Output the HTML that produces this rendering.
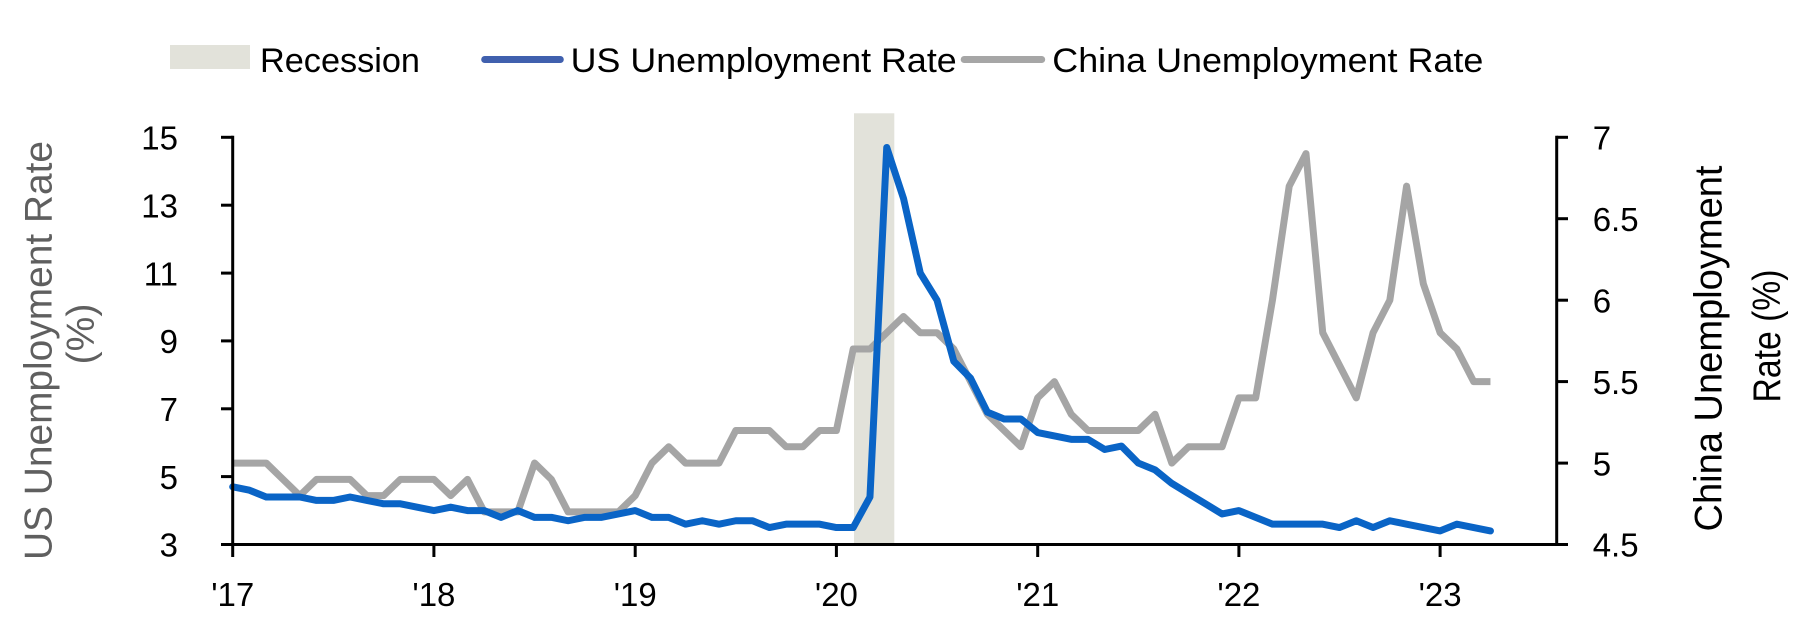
<!DOCTYPE html>
<html><head><meta charset="utf-8"><style>
html,body{margin:0;padding:0;background:#fff;}
svg{display:block;font-family:"Liberation Sans",Arial,sans-serif;}
</style></head><body>
<svg width="1801" height="641" viewBox="0 0 1801 641" xmlns="http://www.w3.org/2000/svg">
<rect x="0" y="0" width="1801" height="641" fill="#fff"/>
<!-- Legend -->
<rect x="170" y="45" width="80" height="24" fill="#e2e2da"/>
<text x="260" y="72" font-size="34" fill="#000" textLength="160" lengthAdjust="spacingAndGlyphs">Recession</text>
<line x1="484.7" y1="59.5" x2="560.3" y2="59.5" stroke="#4060ae" stroke-width="7" stroke-linecap="round"/>
<text x="570.7" y="72" font-size="34" fill="#000" textLength="386" lengthAdjust="spacingAndGlyphs">US Unemployment Rate</text>
<line x1="964.2" y1="59.5" x2="1041.7" y2="59.5" stroke="#a6a6a6" stroke-width="7" stroke-linecap="round"/>
<text x="1052.3" y="72" font-size="34" fill="#000" textLength="431" lengthAdjust="spacingAndGlyphs">China Unemployment Rate</text>

<!-- Recession bar -->
<rect x="854" y="113.3" width="40.3" height="431.2" fill="#e2e2da"/>

<!-- China series (right axis) -->
<g transform="translate(232.7,544.5) scale(16.77,-162.87) translate(0,-4.5)">
<polyline fill="none" stroke="#a5a5a5" stroke-width="7" stroke-linejoin="round" vector-effect="non-scaling-stroke" points="0,5.0 1,5.0 2,5.0 3,4.9 4,4.8 5,4.9 6,4.9 7,4.9 8,4.8 9,4.8 10,4.9 11,4.9 12,4.9 13,4.8 14,4.9 15,4.7 16,4.7 17,4.7 18,5.0 19,4.9 20,4.7 21,4.7 22,4.7 23,4.7 24,4.8 25,5.0 26,5.1 27,5.0 28,5.0 29,5.0 30,5.2 31,5.2 32,5.2 33,5.1 34,5.1 35,5.2 36,5.2 37,5.7 38,5.7 39,5.8 40,5.9 41,5.8 42,5.8 43,5.7 44,5.5 45,5.3 46,5.2 47,5.1 48,5.4 49,5.5 50,5.3 51,5.2 52,5.2 53,5.2 54,5.2 55,5.3 56,5.0 57,5.1 58,5.1 59,5.1 60,5.4 61,5.4 62,6.0 63,6.7 64,6.9 65,5.8 66,5.6 67,5.4 68,5.8 69,6.0 70,6.7 71,6.1 72,5.8 73,5.7 74,5.5 75,5.5"/>
</g>

<!-- US series (left axis) -->
<g transform="translate(232.7,544.5) scale(16.77,-33.93) translate(0,-3)">
<polyline fill="none" stroke="#0a64c6" stroke-width="7" stroke-linejoin="round" stroke-linecap="round" vector-effect="non-scaling-stroke" points="0,4.7 1,4.6 2,4.4 3,4.4 4,4.4 5,4.3 6,4.3 7,4.4 8,4.3 9,4.2 10,4.2 11,4.1 12,4.0 13,4.1 14,4.0 15,4.0 16,3.8 17,4.0 18,3.8 19,3.8 20,3.7 21,3.8 22,3.8 23,3.9 24,4.0 25,3.8 26,3.8 27,3.6 28,3.7 29,3.6 30,3.7 31,3.7 32,3.5 33,3.6 34,3.6 35,3.6 36,3.5 37,3.5 38,4.4 39,14.7 40,13.2 41,11.0 42,10.2 43,8.4 44,7.9 45,6.9 46,6.7 47,6.7 48,6.3 49,6.2 50,6.1 51,6.1 52,5.8 53,5.9 54,5.4 55,5.2 56,4.8 57,4.5 58,4.2 59,3.9 60,4.0 61,3.8 62,3.6 63,3.6 64,3.6 65,3.6 66,3.5 67,3.7 68,3.5 69,3.7 70,3.6 71,3.5 72,3.4 73,3.6 74,3.5 75,3.4"/>
</g>

<!-- Axes -->
<g stroke="#000" stroke-width="3" fill="none">
<line x1="232.7" y1="135.8" x2="232.7" y2="557"/>
<line x1="221" y1="544.5" x2="1558.2" y2="544.5"/>
<line x1="1556.7" y1="135.8" x2="1556.7" y2="546"/>
<!-- left ticks -->
<line x1="221" y1="137.3" x2="232.7" y2="137.3"/>
<line x1="221" y1="205.2" x2="232.7" y2="205.2"/>
<line x1="221" y1="273.1" x2="232.7" y2="273.1"/>
<line x1="221" y1="340.9" x2="232.7" y2="340.9"/>
<line x1="221" y1="408.8" x2="232.7" y2="408.8"/>
<line x1="221" y1="476.6" x2="232.7" y2="476.6"/>
<!-- right ticks -->
<line x1="1556.7" y1="137.3" x2="1568" y2="137.3"/>
<line x1="1556.7" y1="218.7" x2="1568" y2="218.7"/>
<line x1="1556.7" y1="300.2" x2="1568" y2="300.2"/>
<line x1="1556.7" y1="381.6" x2="1568" y2="381.6"/>
<line x1="1556.7" y1="463.1" x2="1568" y2="463.1"/>
<line x1="1556.7" y1="544.5" x2="1568" y2="544.5"/>
<!-- bottom ticks -->
<line x1="433.9" y1="544.5" x2="433.9" y2="557"/>
<line x1="635.2" y1="544.5" x2="635.2" y2="557"/>
<line x1="836.4" y1="544.5" x2="836.4" y2="557"/>
<line x1="1037.7" y1="544.5" x2="1037.7" y2="557"/>
<line x1="1238.9" y1="544.5" x2="1238.9" y2="557"/>
<line x1="1440.1" y1="544.5" x2="1440.1" y2="557"/>
</g>

<!-- Left tick labels -->
<g font-size="33" fill="#000" text-anchor="end">
<text x="178" y="149.5">15</text>
<text x="178" y="217.4">13</text>
<text x="178" y="285.3">11</text>
<text x="178" y="353.1">9</text>
<text x="178" y="421">7</text>
<text x="178" y="488.8">5</text>
<text x="178" y="556.7">3</text>
</g>
<!-- Right tick labels -->
<g font-size="33" fill="#000">
<text x="1592.7" y="149.5">7</text>
<text x="1592.7" y="230.9">6.5</text>
<text x="1592.7" y="312.4">6</text>
<text x="1592.7" y="393.8">5.5</text>
<text x="1592.7" y="475.3">5</text>
<text x="1592.7" y="556.7">4.5</text>
</g>
<!-- Bottom labels -->
<g font-size="33" fill="#000" text-anchor="middle">
<text x="232.7" y="606">'17</text>
<text x="433.9" y="606">'18</text>
<text x="635.2" y="606">'19</text>
<text x="836.4" y="606">'20</text>
<text x="1037.7" y="606">'21</text>
<text x="1238.9" y="606">'22</text>
<text x="1440.1" y="606">'23</text>
</g>

<!-- Axis titles -->
<text transform="translate(51.7,350.5) rotate(-90)" text-anchor="middle" font-size="39" fill="#5f5f5f" textLength="419" lengthAdjust="spacingAndGlyphs">US Unemployment Rate</text>
<text transform="translate(94,334) rotate(-90)" text-anchor="middle" font-size="39" fill="#5f5f5f">(%)</text>
<text transform="translate(1721.3,348.5) rotate(-90)" text-anchor="middle" font-size="39" fill="#000" textLength="366" lengthAdjust="spacingAndGlyphs">China Unemployment</text>
<text transform="translate(1780,336) rotate(-90)" text-anchor="middle" font-size="39" fill="#000" textLength="133" lengthAdjust="spacingAndGlyphs">Rate (%)</text>
</svg>
</body></html>
